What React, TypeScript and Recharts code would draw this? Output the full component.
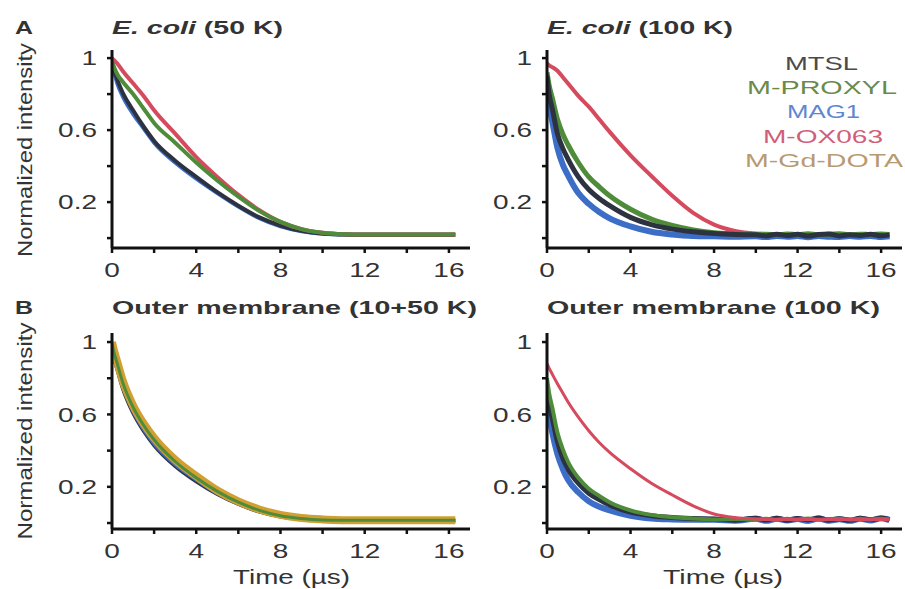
import { LineChart, Line, XAxis, YAxis } from "recharts";

// time axes (µs)
const tEcoli50 = [0, 0.25, 0.5, 1, 1.5, 2, 3, 4, 5, 6, 7, 8, 9, 10, 11, 12, 13, 14, 15, 16.3];
const tOuter10 = [0, 0.1, 0.25, 0.5, 1, 1.5, 2, 3, 4, 5, 6, 7, 8, 9, 10, 11, 12, 13, 14, 15, 16.3];
const tFast = [0, 0.1, 0.25, 0.5, 0.75, 1, 1.5, 2, 2.5, 3, 4, 5, 6, 7, 8, 9, 10, 10.5, 11, 11.5, 12, 12.5, 13, 13.5, 14, 14.5, 15, 15.5, 16, 16.4];

// E. coli, 50 K
const ecoli50Mag1 = [0.97, 0.86, 0.79, 0.69, 0.61, 0.53, 0.42, 0.33, 0.25, 0.175, 0.11, 0.065, 0.038, 0.024, 0.02, 0.018, 0.018, 0.018, 0.018, 0.018];
const ecoli50Mtsl = [0.98, 0.88, 0.81, 0.71, 0.62, 0.54, 0.43, 0.34, 0.255, 0.18, 0.115, 0.07, 0.04, 0.025, 0.02, 0.018, 0.018, 0.018, 0.018, 0.018];
const ecoli50Ox063 = [1.0, 0.97, 0.93, 0.86, 0.79, 0.71, 0.58, 0.45, 0.34, 0.24, 0.155, 0.09, 0.05, 0.03, 0.022, 0.02, 0.02, 0.02, 0.02, 0.02];
const ecoli50Proxyl = [0.98, 0.91, 0.87, 0.8, 0.72, 0.64, 0.53, 0.42, 0.32, 0.23, 0.15, 0.09, 0.05, 0.03, 0.022, 0.02, 0.02, 0.02, 0.02, 0.02];

// E. coli, 100 K
const ecoli100Mag1 = [0.85, 0.74, 0.65, 0.5, 0.41, 0.35, 0.25, 0.19, 0.145, 0.11, 0.065, 0.035, 0.02, 0.012, 0.01, 0.008, 0.01, 0.006, 0.012, 0.008, 0.011, 0.005, 0.011, 0.008, 0.006, 0.011, 0.007, 0.012, 0.006, 0.01];
const ecoli100Mtsl = [0.9, 0.8, 0.72, 0.58, 0.5, 0.44, 0.34, 0.27, 0.22, 0.18, 0.115, 0.075, 0.05, 0.035, 0.025, 0.02, 0.018, 0.012, 0.022, 0.014, 0.021, 0.011, 0.02, 0.023, 0.012, 0.019, 0.014, 0.022, 0.013, 0.018];
const ecoli100Proxyl = [0.92, 0.85, 0.78, 0.66, 0.58, 0.52, 0.42, 0.34, 0.285, 0.235, 0.16, 0.105, 0.07, 0.045, 0.03, 0.024, 0.02, 0.022, 0.018, 0.023, 0.02, 0.024, 0.018, 0.022, 0.024, 0.018, 0.022, 0.02, 0.023, 0.02];
const ecoli100Ox063 = [0.97, 0.96, 0.95, 0.93, 0.895, 0.86, 0.79, 0.73, 0.66, 0.59, 0.46, 0.345, 0.235, 0.14, 0.075, 0.04, 0.025, 0.022, 0.02, 0.02, 0.02, 0.02, 0.02, 0.02, 0.02, 0.02, 0.02, 0.02, 0.02, 0.02];

// outer membrane, 10+50 K
const outer10Mtsl = [0.97, 0.91, 0.85, 0.75, 0.61, 0.51, 0.43, 0.315, 0.23, 0.16, 0.105, 0.063, 0.036, 0.022, 0.015, 0.013, 0.012, 0.012, 0.012, 0.012, 0.012];
const outer10Mag1 = [0.98, 0.92, 0.86, 0.76, 0.62, 0.52, 0.44, 0.325, 0.24, 0.165, 0.108, 0.065, 0.038, 0.023, 0.016, 0.014, 0.013, 0.013, 0.013, 0.013, 0.013];
const outer10Ox063 = [0.99, 0.94, 0.88, 0.78, 0.64, 0.54, 0.46, 0.34, 0.25, 0.17, 0.11, 0.068, 0.04, 0.025, 0.017, 0.015, 0.014, 0.014, 0.014, 0.014, 0.014];
const outer10Gd = [1.0, 0.95, 0.89, 0.79, 0.65, 0.55, 0.47, 0.35, 0.26, 0.18, 0.12, 0.075, 0.045, 0.028, 0.02, 0.016, 0.015, 0.015, 0.015, 0.015, 0.015];
const outer10Proxyl = [0.99, 0.94, 0.88, 0.78, 0.64, 0.54, 0.46, 0.34, 0.25, 0.175, 0.115, 0.07, 0.04, 0.025, 0.017, 0.015, 0.015, 0.015, 0.015, 0.015, 0.015];

// outer membrane, 100 K
const outer100Mag1 = [0.7, 0.6, 0.5, 0.38, 0.3, 0.24, 0.17, 0.12, 0.09, 0.07, 0.04, 0.025, 0.02, 0.018, 0.018, 0.013, 0.023, 0.012, 0.024, 0.014, 0.022, 0.011, 0.025, 0.013, 0.021, 0.012, 0.024, 0.014, 0.026, 0.016];
const outer100Mtsl = [0.75, 0.66, 0.58, 0.45, 0.36, 0.3, 0.22, 0.165, 0.13, 0.1, 0.06, 0.04, 0.03, 0.025, 0.022, 0.016, 0.026, 0.017, 0.027, 0.015, 0.025, 0.018, 0.028, 0.016, 0.024, 0.015, 0.026, 0.018, 0.027, 0.02];
const outer100Proxyl = [0.8, 0.72, 0.64, 0.5, 0.41, 0.34, 0.25, 0.19, 0.15, 0.115, 0.07, 0.045, 0.032, 0.025, 0.02, 0.022, 0.019, 0.024, 0.018, 0.023, 0.02, 0.025, 0.018, 0.022, 0.024, 0.019, 0.023, 0.02, 0.024, 0.021];
const outer100Ox063 = [0.88, 0.856, 0.823, 0.77, 0.72, 0.67, 0.585, 0.51, 0.445, 0.39, 0.3, 0.22, 0.155, 0.095, 0.05, 0.03, 0.022, 0.02, 0.02, 0.02, 0.02, 0.02, 0.02, 0.02, 0.02, 0.02, 0.02, 0.02, 0.02, 0.02];

const X_TICKS = [0, 2, 4, 6, 8, 10, 12, 14, 16];
const Y_TICKS = [0, 0.2, 0.4, 0.6, 0.8, 1];
const Y_LABELS = [0.2, 0.6, 1];

const LABELS = ["MTSL", "M-PROXYL", "MAG1", "M-OX063", "M-Gd-DOTA"];

const C = {
  mtsl: "#2d3241",
  proxyl: "#4f8c3a",
  mag1: "#3c6ec8",
  ox063: "#d64a5e",
  gd: "#d2a032",
};

const FONT = "'Liberation Sans', Arial, sans-serif";

interface Trace {
  color: string;
  width: number;
  values: number[];
}

const zip = (t: number[], v: number[]) =>
  t.slice(0, v.length).map((x, i) => ({ x, y: v[i] }));

const XTick = ({ x, y, payload }: any) => {
  const v = payload.value;
  if (v % 4 !== 0) return <g />;
  return (
    <g transform={`translate(${x},${y})`}>
      <text transform="scale(1.4,1)" textAnchor="middle" dy="0.71em" fontSize={20} fill="#333" fontFamily={FONT}>
        {v}
      </text>
    </g>
  );
};

const YTick = ({ x, y, payload }: any) => {
  const v = payload.value;
  if (!Y_LABELS.some((l) => Math.abs(l - v) < 1e-6)) return <g />;
  return (
    <g transform={`translate(${x},${y})`}>
      <text transform="scale(1.4,1)" textAnchor="end" dy="0.355em" fontSize={20} fill="#333" fontFamily={FONT}>
        {v}
      </text>
    </g>
  );
};

interface PanelProps {
  left: number;
  top: number;
  t: number[];
  traces: Trace[];
  yDomain: [number, number];
  xHeight: number;
  right?: number;
}

function Panel({ left, top, t, traces, yDomain, xHeight, right = 0 }: PanelProps) {
  const axis = { stroke: "#111", strokeWidth: 3 };
  const tickLine = { stroke: "#111", strokeWidth: 2.5 };
  return (
    <div style={{ position: "absolute", left, top }}>
      <LineChart width={470} height={290} margin={{ top: 50, right, bottom: 0, left: 0 }}>
        <XAxis
          type="number"
          dataKey="x"
          domain={[0, 17]}
          ticks={X_TICKS}
          interval={0}
          allowDataOverflow
          height={xHeight}
          axisLine={axis}
          tickLine={tickLine}
          tickSize={5}
          tickMargin={10}
          tick={<XTick />}
        />
        <YAxis
          type="number"
          domain={yDomain}
          ticks={Y_TICKS}
          interval={0}
          allowDataOverflow
          width={112}
          axisLine={axis}
          tickLine={tickLine}
          tickSize={5}
          tickMargin={10}
          tick={<YTick />}
        />
        {traces.map((tr, i) => (
          <Line
            key={i}
            data={zip(t, tr.values)}
            dataKey="y"
            type="monotone"
            stroke={tr.color}
            strokeWidth={tr.width}
            strokeLinejoin="round"
            dot={false}
            isAnimationActive={false}
          />
        ))}
      </LineChart>
    </div>
  );
}

const legendColors = ["#4a4a4a", "#6a8a4a", "#5f86d0", "#d0607a", "#b89a70"];
const legendX = [785, 747, 787, 763, 745];
const legendW = [73, 150, 73, 120, 158];
const legendY = [63, 87, 111, 136, 160];

export default function App() {
  const domA: [number, number] = [-0.055, 1.045];
  const domB: [number, number] = [-0.033, 1.05];
  return (
    <div style={{ position: "absolute", left: 0, top: 0, width: 905, height: 589, background: "#fff", overflow: "hidden" }}>
      <Panel
        left={0}
        top={0}
        t={tEcoli50}
        yDomain={domA}
        xHeight={42}
        traces={[
          { color: C.mag1, width: 4, values: ecoli50Mag1 },
          { color: C.mtsl, width: 4, values: ecoli50Mtsl },
          { color: C.ox063, width: 4, values: ecoli50Ox063 },
          { color: C.proxyl, width: 4, values: ecoli50Proxyl },
        ]}
      />
      <Panel
        left={435}
        top={0}
        right={3}
        t={tFast}
        yDomain={domA}
        xHeight={42}
        traces={[
          { color: C.ox063, width: 4, values: ecoli100Ox063 },
          { color: C.mag1, width: 6, values: ecoli100Mag1 },
          { color: C.proxyl, width: 5, values: ecoli100Proxyl },
          { color: C.mtsl, width: 5, values: ecoli100Mtsl },
        ]}
      />
      <Panel
        left={0}
        top={283}
        t={tOuter10}
        yDomain={domB}
        xHeight={44}
        traces={[
          { color: C.mtsl, width: 4, values: outer10Mtsl },
          { color: C.mag1, width: 4, values: outer10Mag1 },
          { color: C.ox063, width: 4, values: outer10Ox063 },
          { color: C.gd, width: 8, values: outer10Gd },
          { color: C.proxyl, width: 3, values: outer10Proxyl },
        ]}
      />
      <Panel
        left={435}
        top={283}
        right={3}
        t={tFast}
        yDomain={domB}
        xHeight={44}
        traces={[
          { color: C.mag1, width: 6, values: outer100Mag1 },
          { color: C.mtsl, width: 5, values: outer100Mtsl },
          { color: C.proxyl, width: 4, values: outer100Proxyl },
          { color: C.ox063, width: 3, values: outer100Ox063 },
        ]}
      />
      <svg width={905} height={589} style={{ position: "absolute", left: 0, top: 0, pointerEvents: "none" }} fontFamily={FONT}>
        <g fill="#333" fontWeight="bold" fontSize={19}>
          <text x={15} y={34} textLength={18} lengthAdjust="spacingAndGlyphs">A</text>
          <text x={112} y={34} textLength={171} lengthAdjust="spacingAndGlyphs">
            <tspan fontStyle="italic">E. coli</tspan> (50 K)
          </text>
          <text x={547} y={34} textLength={186} lengthAdjust="spacingAndGlyphs">
            <tspan fontStyle="italic">E. coli</tspan> (100 K)
          </text>
          <text x={15} y={314} textLength={18} lengthAdjust="spacingAndGlyphs">B</text>
          <text x={112} y={314} textLength={365} lengthAdjust="spacingAndGlyphs">Outer membrane (10+50 K)</text>
          <text x={547} y={314} textLength={333} lengthAdjust="spacingAndGlyphs">Outer membrane (100 K)</text>
        </g>
        <g fill="#333" fontSize={20}>
          <text transform="translate(32,150) rotate(-90)" textAnchor="middle" textLength={214} lengthAdjust="spacingAndGlyphs">
            Normalized intensity
          </text>
          <text transform="translate(32,431) rotate(-90)" textAnchor="middle" textLength={217} lengthAdjust="spacingAndGlyphs">
            Normalized intensity
          </text>
          <text x={233} y={584} textLength={117} lengthAdjust="spacingAndGlyphs">Time (µs)</text>
          <text x={663} y={584} textLength={120} lengthAdjust="spacingAndGlyphs">Time (µs)</text>
        </g>
        <g fontSize={18}>
          {LABELS.map((l, i) => (
            <text key={l} x={legendX[i]} y={legendY[i] + 6.5} fill={legendColors[i]} textLength={legendW[i]} lengthAdjust="spacingAndGlyphs">
              {l}
            </text>
          ))}
        </g>
      </svg>
    </div>
  );
}
